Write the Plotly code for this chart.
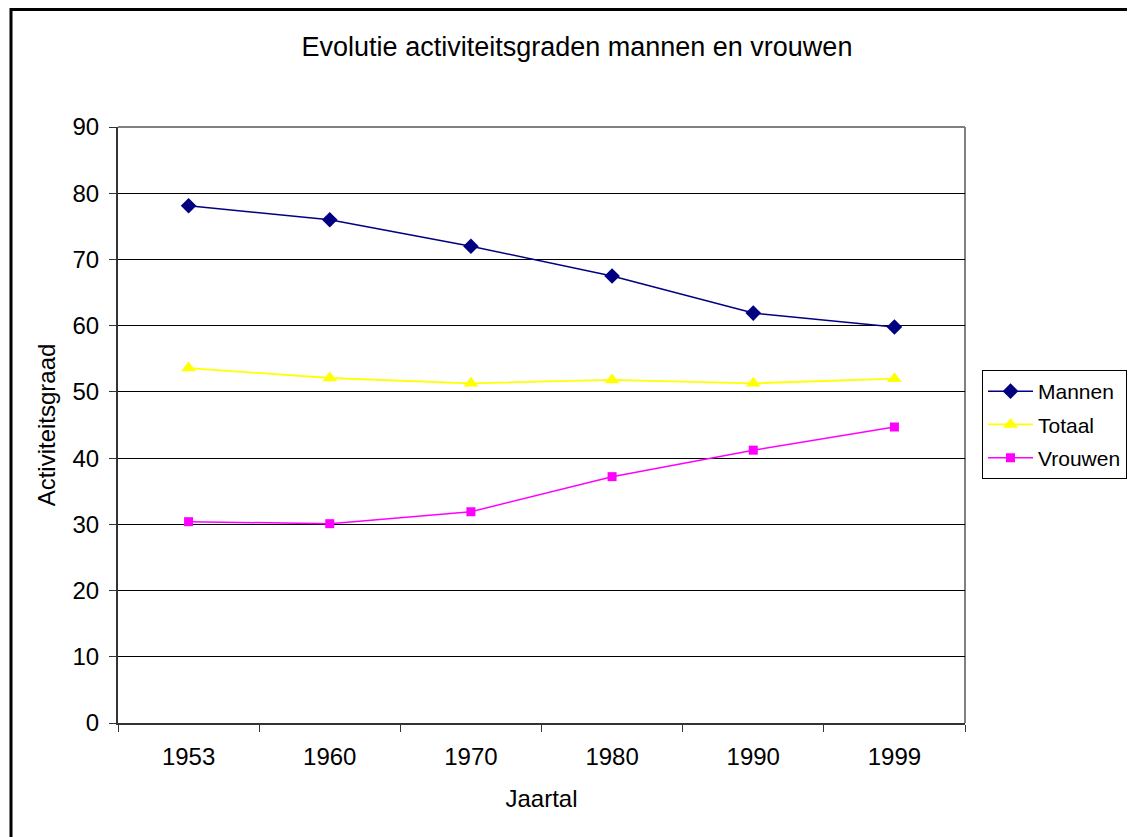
import plotly.graph_objects as go

years = ["1953", "1960", "1970", "1980", "1990", "1999"]
mannen = [78.1, 76.0, 72.0, 67.5, 61.9, 59.8]
totaal = [53.6, 52.1, 51.3, 51.8, 51.3, 52.0]
vrouwen = [30.4, 30.1, 31.9, 37.2, 41.2, 44.7]
y_ticks = [0, 10, 20, 30, 40, 50, 60, 70, 80, 90]

OFF = 8  # default page body margin
W, H = 1135 - OFF, 837 - OFF
# plot area in window pixels: x 118..965, y 127..723
L, T = 118 - OFF, 127 - OFF
R = W - (965 - OFF)
B = H - (723 - OFF)
pw, ph = W - L - R, H - T - B

def px(x):  # window x -> paper
    return (x - OFF - L) / pw

def py(y):  # window y -> paper
    return (H - B - (y - OFF)) / ph

font = "Liberation Sans, Arial, sans-serif"

fig = go.Figure()
fig.add_trace(go.Scatter(x=years, y=mannen, name="Mannen", mode="lines+markers",
                         legendgroup="a",
                         line=dict(color="#000080", width=1.5),
                         marker=dict(symbol="diamond", size=12, color="#000080")))
fig.add_trace(go.Scatter(x=years, y=totaal, name="Totaal", mode="lines+markers",
                         legendgroup="b",
                         line=dict(color="#FFFF00", width=1.8),
                         marker=dict(symbol="triangle-up", size=13, color="#FFFF00")))
fig.add_trace(go.Scatter(x=years, y=vrouwen, name="Vrouwen", mode="lines+markers",
                         legendgroup="c",
                         line=dict(color="#FF00FF", width=1.5),
                         marker=dict(symbol="square", size=9, color="#FF00FF")))

fig.update_layout(
    width=W, height=H,
    margin=dict(l=L, r=R, t=T, b=B, autoexpand=False),
    paper_bgcolor="white", plot_bgcolor="white",
    font=dict(family=font, size=22, color="black"),
    title=dict(text="Evolutie activiteitsgraden mannen en vrouwen",
               x=(577 - OFF) / W, xanchor="center", y=1 - (47 - OFF) / H, yanchor="middle",
               font=dict(size=27)),
    legend=dict(xref="container", yref="container",
                x=(982 - OFF) / W, y=1 - (370 - OFF) / H, xanchor="left", yanchor="top",
                bordercolor="black", borderwidth=1, bgcolor="white",
                font=dict(size=21), tracegroupgap=3, itemwidth=45),
    showlegend=True,
)
fig.update_xaxes(type="category", range=[-0.5, 5.5], tickson="boundaries",
                 ticks="outside", ticklen=7, tickcolor="#333", showline=True,
                 linecolor="#333", linewidth=2, showgrid=False,
                 ticklabelstandoff=11,
                 title=dict(text="Jaartal", standoff=21, font=dict(size=24)),
                 tickfont=dict(size=24))
fig.update_yaxes(range=[0, 90], tickvals=y_ticks, ticks="outside", ticklen=7,
                 tickcolor="#333", showline=True, linecolor="#333", linewidth=2,
                 showgrid=True, gridcolor="black", gridwidth=1, zeroline=False,
                 ticklabelstandoff=5,
                 title=dict(text="Activiteitsgraad", standoff=10, font=dict(size=24)),
                 tickfont=dict(size=24))

# plot area border (top/right gray)
fig.add_shape(type="line", xref="paper", yref="paper", x0=0, x1=1, y0=1, y1=1,
              line=dict(color="#808080", width=2), layer="below")
fig.add_shape(type="line", xref="paper", yref="paper", x0=1, x1=1, y0=0, y1=1,
              line=dict(color="#808080", width=2), layer="below")
# outer chart border
fig.add_shape(type="rect", xref="paper", yref="paper",
              x0=px(11), x1=px(1160), y0=py(9.5), y1=py(860),
              line=dict(color="black", width=3))

fig.write_html("out.html")
